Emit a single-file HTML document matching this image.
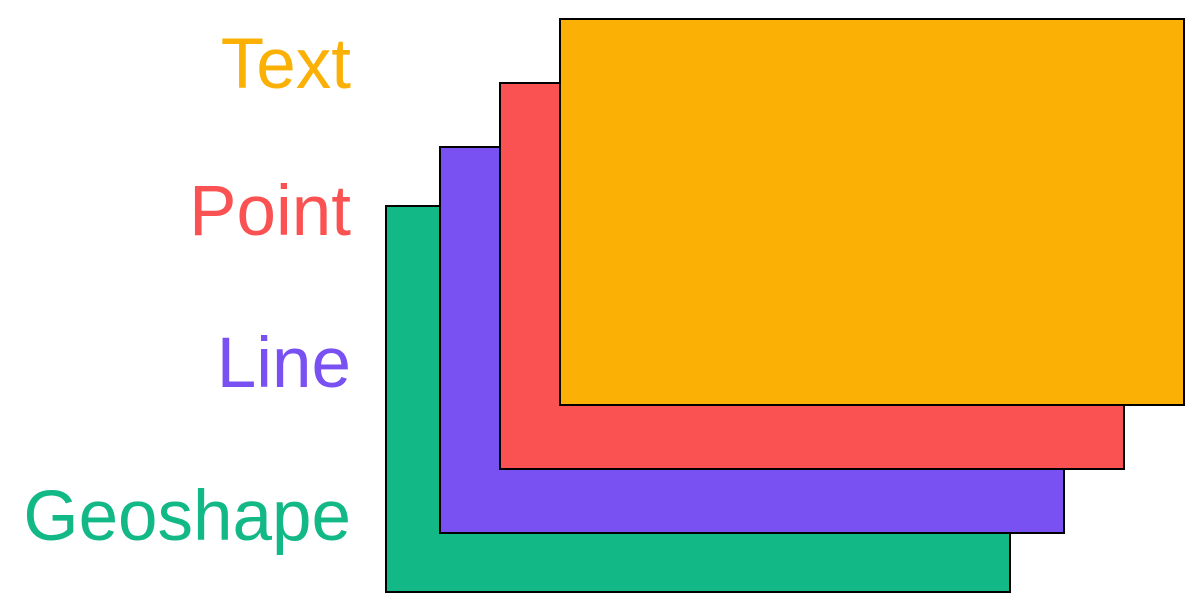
<!DOCTYPE html>
<html><head><meta charset="utf-8"><style>
html,body{margin:0;padding:0;background:#fff;width:1204px;height:613px;overflow:hidden}
svg{display:block}
text{font-family:"Liberation Sans",Arial,sans-serif;font-size:71px}
</style></head><body>
<svg id="c" width="1204" height="613"></svg>
<script>
const layers = ["Geoshape","Line","Point","Text"];
const colors = ["#12b886","#7950f2","#fa5252","#fab005"];
const rectX = [386,440,500,560];
const rectY = [206,147,83,19];
const labelY = [540,387,235,88];
const rectW = 624, rectH = 386;
const svg = document.getElementById('c');
const NS = 'http://www.w3.org/2000/svg';
layers.forEach((name,i)=>{
  const r = document.createElementNS(NS,'rect');
  r.setAttribute('x', rectX[i]); r.setAttribute('y', rectY[i]);
  r.setAttribute('width', rectW); r.setAttribute('height', rectH);
  r.setAttribute('fill', colors[i]); r.setAttribute('stroke', '#000'); r.setAttribute('stroke-width', 2);
  
  
  svg.appendChild(r);
  const t = document.createElementNS(NS,'text');
  t.setAttribute('x', 351); t.setAttribute('y', labelY[i]);
  t.setAttribute('text-anchor', 'end'); t.setAttribute('fill', colors[i]);
  t.textContent = name;
  
  
  svg.appendChild(t);
});
</script>
</body></html>
